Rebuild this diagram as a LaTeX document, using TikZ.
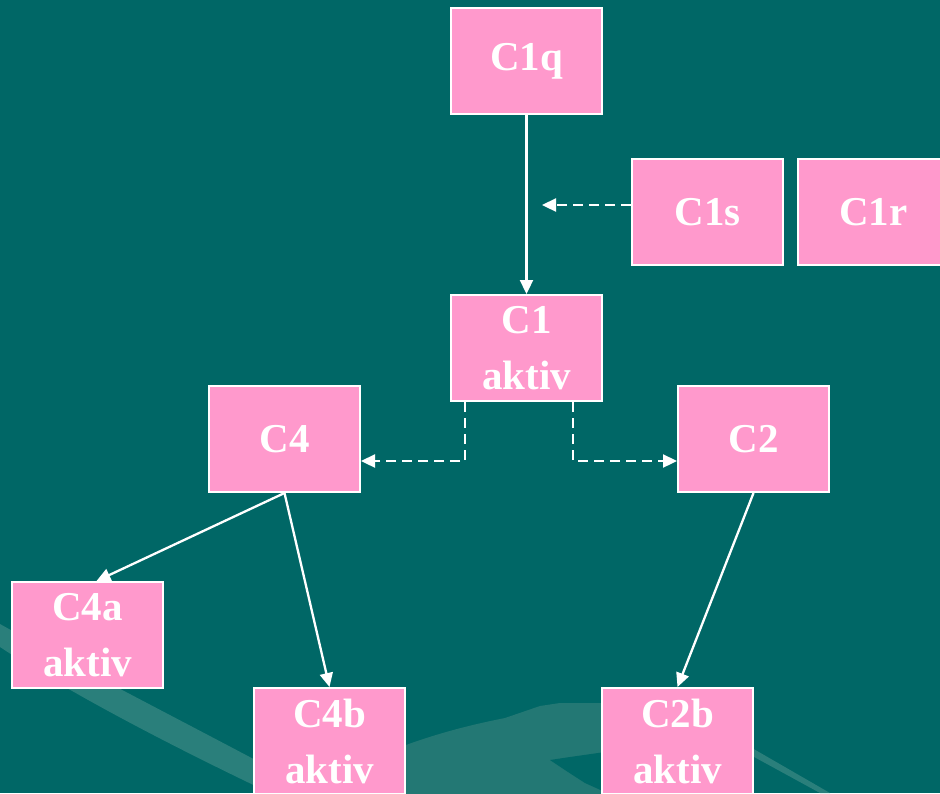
\documentclass[tikz,border=0pt]{standalone}
\usepackage{fontspec}
\setmainfont{Liberation Serif}
\usetikzlibrary{arrows.meta,calc}
\definecolor{bgteal}{HTML}{006766}
\definecolor{boxpink}{HTML}{FF99CC}
\definecolor{bandlight}{HTML}{2A7F7B}
\definecolor{hilllight}{HTML}{237874}
\tikzset{
  box/.style={draw=white, line width=2pt, fill=boxpink, text=white,
    minimum width=151pt, minimum height=106pt, inner sep=0pt,
    align=center, font=\fontsize{41}{56}\selectfont\bfseries},
  solidarrow/.style={draw=white, line width=2.3pt, -{Triangle[length=14pt,width=13pt]}},
  dasharrow/.style={draw=white, line width=2.3pt, dash pattern=on 10pt off 6pt,
    -{Triangle[length=14pt,width=13pt]}}
}
\begin{document}
\begin{tikzpicture}[x=1pt,y=-1pt]
\useasboundingbox (0,0) rectangle (940,793);
\clip (0,0) rectangle (940,793);
\fill[bgteal] (0,0) rectangle (940,793);
% background swooshes
\fill[bandlight] (0,624) .. controls (100,680) and (220,740) .. (330,800)
  -- (285,800) .. controls (200,760) and (80,700) .. (0,647) -- cycle;
\fill[hilllight] (395,749) .. controls (440,732) and (475,724) .. (505,718)
  -- (540,706) -- (560,703) -- (610,703) -- (610,800) -- (395,800) -- cycle;
\fill[bgteal] (550,760) -- (570,757) -- (605,752) -- (605,792) -- (585,783) -- (568,772) -- cycle;
\fill[bandlight] (745,744) -- (830,793) -- (820,793) -- (745,752) -- cycle;
% nodes
\node[box] (C1q) at (526.5,61) {C1q};
\node[box] (C1s) at (707.5,212) {C1s};
\node[box] (C1r) at (873.5,212) {C1r};
\node[box] (C1) at (526.5,348) {C1\\aktiv};
\node[box] (C4) at (284.5,439) {C4};
\node[box] (C2) at (753.5,439) {C2};
\node[box] (C4a) at (87.5,635) {C4a\\aktiv};
\node[box] (C4b) at (329.5,741) {C4b\\aktiv};
\node[box] (C2b) at (677.5,741) {C2b\\aktiv};
\coordinate (C1sEnd) at (542,205);
% connectors
\draw[solidarrow] (C1q.south) -- (C1.north);
\draw[dasharrow] ($(C1s.west)+(0,-7)$) -- (C1sEnd);
\draw[dasharrow] ($(C1.south west)+(15,0)$) |- ($(C4.east)+(0,22)$);
\draw[dasharrow] ($(C1.south east)+(-30,0)$) |- ($(C2.west)+(0,22)$);
\draw[solidarrow] (C4.south) -- ($(C4a.north)+(9,0)$);
\draw[solidarrow] (C4.south) -- (C4b.north);
\draw[solidarrow] (C2.south) -- (C2b.north);
\end{tikzpicture}
\end{document}
